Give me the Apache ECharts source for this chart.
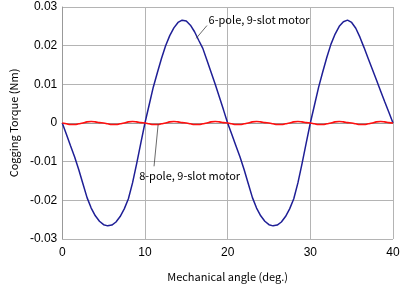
<!DOCTYPE html>
<html><head><meta charset="utf-8">
<script src="https://cdn.jsdelivr.net/npm/echarts@6/dist/echarts.min.js"></script>
<style>html,body{margin:0;padding:0;background:#fff}#c{width:403px;height:287px}</style>
</head><body><div id="c"></div>
<script>
const angles = [0,0.5,1,1.5,2,2.5,3,3.5,4,4.5,5,5.5,6,6.5,7,7.5,8,8.5,9,9.5,
10,10.5,11,11.5,12,12.5,13,13.5,14,14.5,15,15.5,16,16.5,17,17.5,18,18.5,19,19.5,
20,20.5,21,21.5,22,22.5,23,23.5,24,24.5,25,25.5,26,26.5,27,27.5,28,28.5,29,29.5,
30,30.5,31,31.5,32,32.5,33,33.5,34,34.5,35,35.5,36,36.5,37,37.5,38,38.5,39,39.5,40];
const torque6p9s = [0,-0.0029,-0.0059,-0.0088,-0.0121,-0.0157,-0.0193,-0.0220,-0.0240,-0.0254,
-0.0263,-0.0266,-0.0264,-0.0256,-0.0242,-0.0222,-0.0196,-0.0155,-0.0105,-0.0052,
0,0.0046,0.0092,0.0130,0.0167,0.0200,0.0226,0.0246,0.0260,0.0266,
0.0264,0.0253,0.0236,0.0214,0.0193,0.0162,0.0131,0.0100,0.0067,0.0034,
0,-0.0029,-0.0059,-0.0088,-0.0121,-0.0157,-0.0193,-0.0220,-0.0240,-0.0254,
-0.0263,-0.0266,-0.0264,-0.0256,-0.0242,-0.0222,-0.0196,-0.0155,-0.0105,-0.0052,
0,0.0046,0.0092,0.0132,0.0170,0.0204,0.0230,0.0250,0.0262,0.0266,
0.0260,0.0245,0.0222,0.0195,0.0167,0.0139,0.0111,0.0083,0.0055,0.0028,0];
const torque8p9s = [0,-0.0002,-0.0004,-0.0004,-0.0002,0,0.0003,0.0004,0.0003,0.0001,
0,-0.0002,-0.0004,-0.0004,-0.0002,0,0.0003,0.0004,0.0003,0.0001,
0,-0.0002,-0.0004,-0.0004,-0.0002,0,0.0003,0.0004,0.0003,0.0001,
0,-0.0002,-0.0004,-0.0004,-0.0002,0,0.0003,0.0004,0.0003,0.0001,
0,-0.0002,-0.0004,-0.0004,-0.0002,0,0.0003,0.0004,0.0003,0.0001,
0,-0.0002,-0.0004,-0.0004,-0.0002,0,0.0003,0.0004,0.0003,0.0001,
0,-0.0002,-0.0004,-0.0004,-0.0002,0,0.0003,0.0004,0.0003,0.0001,
0,-0.0002,-0.0004,-0.0004,-0.0002,0,0.0003,0.0004,0.0003,0.0001,0];
const xTicks = [0,10,20,30,40];
const yTicks = [-0.03,-0.02,-0.01,0,0.01,0.02,0.03];
const label6 = "6-pole, 9-slot motor";
const label8 = "8-pole, 9-slot motor";
const xTitle = "Mechanical angle (deg.)";
const yTitle = "Cogging Torque (Nm)";

const chart = echarts.init(document.getElementById('c'), null, {renderer:'canvas'});
const tickFont = {color:'#000', fontFamily:'Liberation Sans', fontSize:12};
const jp = 'Noto Sans CJK JP';
chart.setOption({
  animation:false,
  backgroundColor:'#fff',
  grid:{left:59, right:10, top:7, bottom:43, containLabel:false},
  xAxis:{type:'value', min:xTicks[0], max:xTicks[xTicks.length-1], interval:10,
    name:xTitle, nameLocation:'middle', nameGap:32,
    nameTextStyle:{fontFamily:jp, fontSize:11, color:'#000'},
    axisLine:{show:true, lineStyle:{color:'#999', width:1}}, axisTick:{show:false},
    axisLabel:Object.assign({margin:8}, tickFont),
    splitLine:{show:true, lineStyle:{color:'#b4b4b4', width:1}}},
  yAxis:{type:'value', min:yTicks[0], max:yTicks[yTicks.length-1], interval:0.01,
    name:yTitle, nameLocation:'middle', nameRotate:90, nameGap:42,
    nameTextStyle:{fontFamily:jp, fontSize:11, color:'#000'},
    axisLine:{show:true, lineStyle:{color:'#999', width:1}}, axisTick:{show:false},
    axisLabel:Object.assign({margin:5, formatter:v=>String(+v.toFixed(2))}, tickFont),
    splitLine:{show:true, lineStyle:{color:'#b4b4b4', width:1}}},
  series:[
    {name:label6, type:'line', data:angles.map((a,i)=>[a,torque6p9s[i]]), showSymbol:false,
     lineStyle:{color:'#1f1f96', width:1.5}, z:3},
    {name:label8, type:'line', data:angles.map((a,i)=>[a,torque8p9s[i]]), showSymbol:false,
     smooth:true, lineStyle:{color:'#ff1010', width:1.6}, z:4}
  ]
});
function px(x,y){return chart.convertToPixel({gridIndex:0},[x,y]);}
const t6 = px(17.7, 0.0267), l6a = px(17.5,0.0252), l6b = px(16.2,0.0219);
const t8 = px(9.3,-0.0137), l8a = px(11.6,-0.0003), l8b = px(11.1,-0.0112);
chart.setOption({graphic:[
  {type:'line', shape:{x1:l6a[0],y1:l6a[1],x2:l6b[0],y2:l6b[1]}, style:{stroke:'#444', lineWidth:0.8}, z:10},
  {type:'line', shape:{x1:l8a[0],y1:l8a[1],x2:l8b[0],y2:l8b[1]}, style:{stroke:'#444', lineWidth:0.8}, z:10},
  {type:'text', x:t6[0], y:t6[1], style:{text:label6, fontFamily:jp, fontSize:11, fill:'#000', textVerticalAlign:'middle'}, z:10},
  {type:'text', x:t8[0], y:t8[1], style:{text:label8, fontFamily:jp, fontSize:11, fill:'#000', textVerticalAlign:'middle'}, z:10}
]});
</script></body></html>
